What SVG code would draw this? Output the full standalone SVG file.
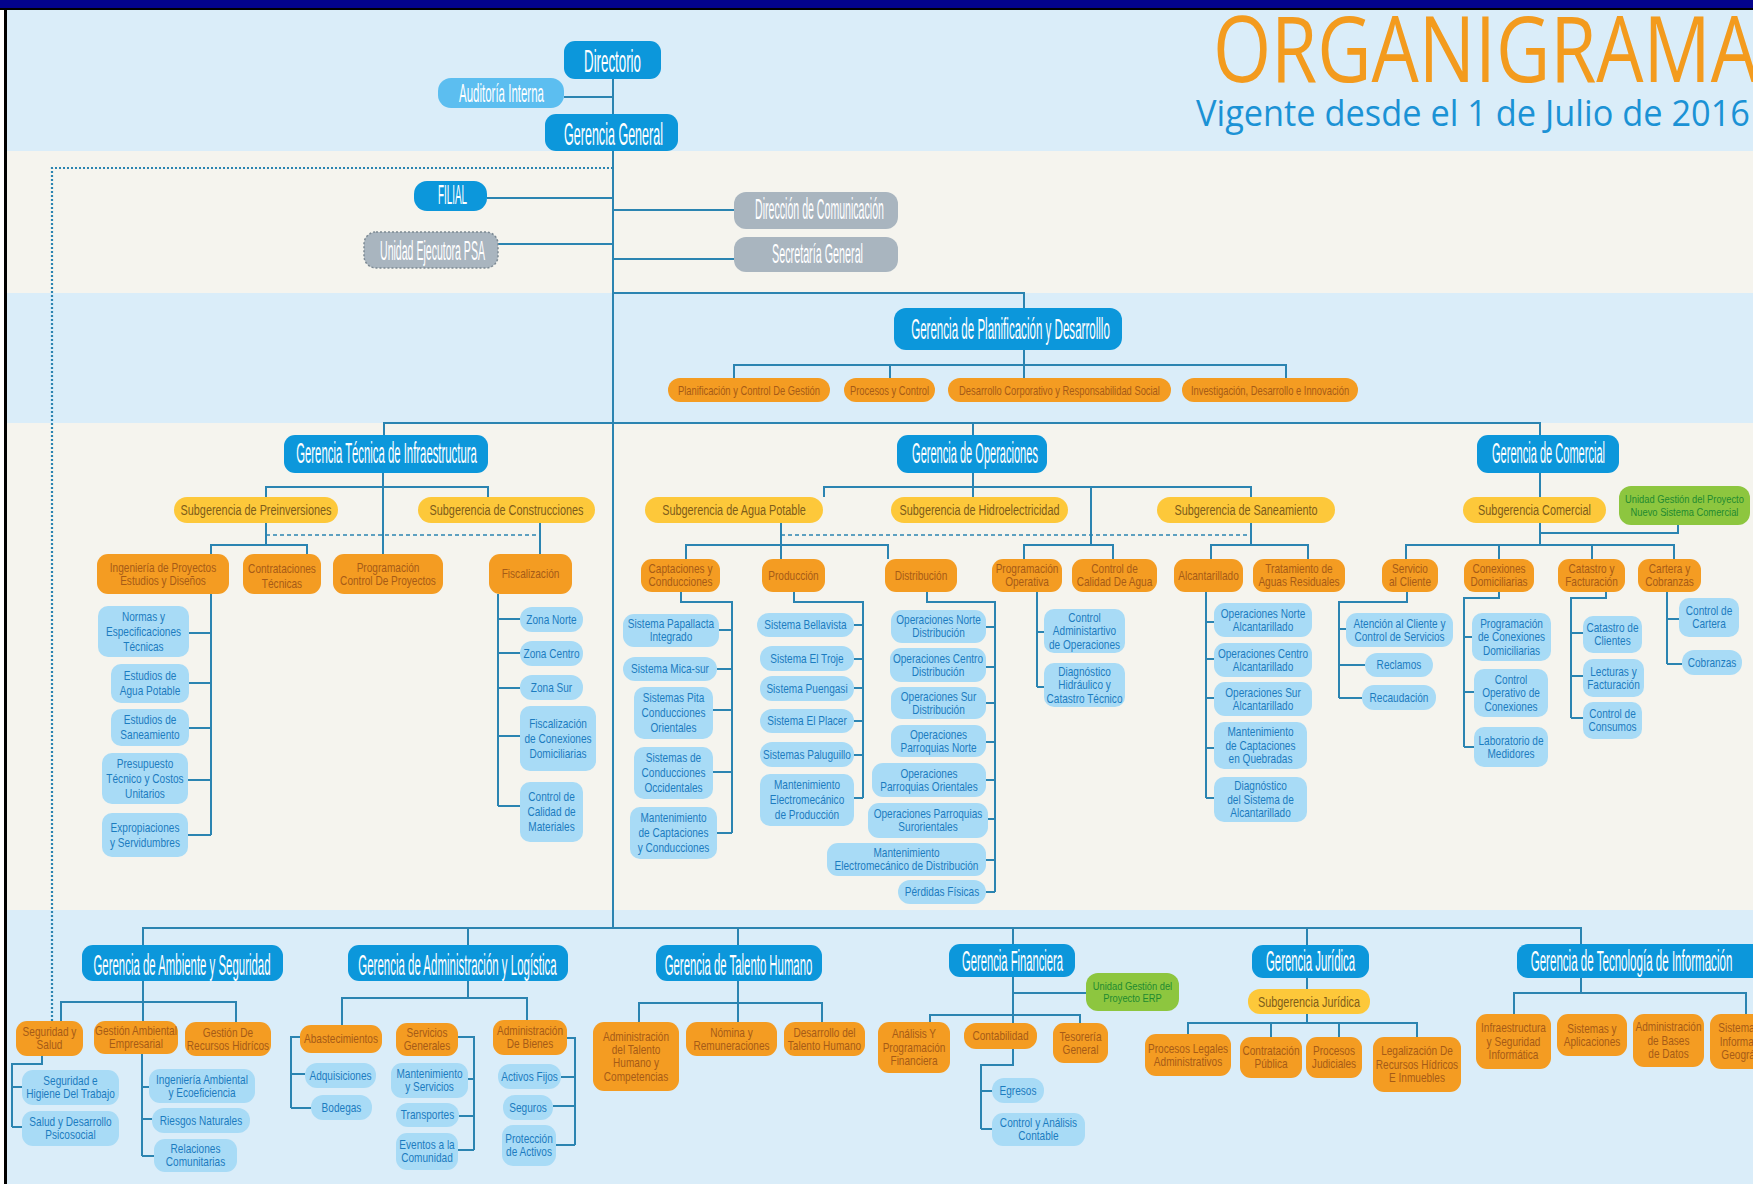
<svg xmlns="http://www.w3.org/2000/svg" width="1753" height="1184" viewBox="0 0 1753 1184">
<defs>
<style>
.ln{fill:none;stroke:#2b84b1;stroke-width:2}
.dsh{fill:none;stroke:#2b84b1;stroke-width:1.3;stroke-dasharray:4 3}
.dot{fill:none;stroke:#2b84b1;stroke-width:2.2;stroke-dasharray:2 2}
.gm{fill:#0c97db}
.au{fill:#5cbef0}
.gy{fill:#a9b5bf}
.or{fill:#f49c22}
.ye{fill:#fdc83a}
.lb{fill:#a8dbf6}
.gn{fill:#8dc63f}
text{font-family:"Liberation Sans",Arial,sans-serif}
.t{fill:#ffffff;text-anchor:middle}
.ot{fill:#a65b17;font-size:12px;text-anchor:middle}
.bt{fill:#1c7cc0;font-size:12px;text-anchor:middle}
.yt{fill:#7d5d1a;font-size:14.5px;text-anchor:middle}
.gt{fill:#1f8a30;font-size:11px;text-anchor:middle}
.pt{fill:#a65b17;font-size:12.5px;text-anchor:middle}
</style>
</defs>

<g id="background">
<rect x="0" y="0" width="1753" height="1184" fill="#ffffff"/>
<rect x="7" y="10" width="1746" height="141" fill="#daedf9"/>
<rect x="7" y="151" width="1746" height="142" fill="#f5f4ee"/>
<rect x="7" y="293" width="1746" height="130" fill="#daedf9"/>
<rect x="7" y="423" width="1746" height="487" fill="#f5f4ee"/>
<rect x="7" y="910" width="1746" height="274" fill="#daedf9"/>
<rect x="0" y="0" width="1753" height="9" fill="#03038c"/>
<rect x="0" y="8" width="1753" height="2" fill="#000000"/>
<rect x="4" y="8" width="3" height="1176" fill="#000000"/>
</g>

<g id="title">
<text x="1213" y="82" style="font-family:'Open Sans','Liberation Sans',sans-serif;font-size:92px;fill:#f39b1e" textLength="545" lengthAdjust="spacingAndGlyphs">ORGANIGRAMA</text>
<text x="1196" y="126" style="font-family:'Open Sans','Liberation Sans',sans-serif;font-size:37px;fill:#1b92d5" textLength="554" lengthAdjust="spacingAndGlyphs">Vigente desde el 1 de Julio de 2016</text>
</g>

<g id="connectors">
<path class="ln" d="M613,79 V928"/>
<path class="ln" d="M564,97 H613"/>
<path class="ln" d="M487,198 H613"/>
<path class="ln" d="M613,210 H734"/>
<path class="ln" d="M498,244 H613"/>
<path class="ln" d="M613,259 H734"/>
<path class="ln" d="M613,293 H1024 V308"/>
<path class="ln" d="M1024,350 V378"/>
<path class="ln" d="M734,378 V365 H1286 V378"/>
<path class="ln" d="M890,365 V378"/>
<path class="dot" d="M613,168 H52 V1021"/>
<path class="ln" d="M384,435 V423 H1540 V435"/>
<path class="ln" d="M973,423 V435"/>
<path class="ln" d="M383,473 V554"/>
<path class="ln" d="M266,497 V487 H488 V497"/>
<path class="ln" d="M266,523 V545"/>
<path class="ln" d="M211,554 V545 H307 V554"/>
<path class="dsh" d="M266,535 H540"/>
<path class="ln" d="M540,523 V554"/>
<path class="ln" d="M211,594 V835 M189,633 H211 M189,683 H211 M189,728 H211 M188,780 H211 M188,835 H211"/>
<path class="ln" d="M498,594 V806 M498,619 H520 M498,653 H520 M498,688 H520 M498,736 H520 M498,806 H520"/>
<path class="ln" d="M973,473 V497"/>
<path class="ln" d="M824,497 V487 H1251 V497"/>
<path class="ln" d="M1091,487 V545"/>
<path class="ln" d="M1024,559 V545 H1113 V559"/>
<path class="dsh" d="M781,535 H1251"/>
<path class="ln" d="M781,523 V559"/>
<path class="ln" d="M686,559 V545 H888 V559"/>
<path class="ln" d="M1251,523 V545"/>
<path class="ln" d="M1211,559 V545 H1308 V559"/>
<path class="ln" d="M681,592 V602 H732 V833 M719,630 H732 M717,669 H732 M713,710 H732 M713,772 H732 M717,833 H732"/>
<path class="ln" d="M794,592 V602 H863 V798 M854,625 H863 M854,659 H863 M854,688 H863 M854,721 H863 M854,755 H863 M854,798 H863"/>
<path class="ln" d="M927,592 V602 H995 V892 M986,627 H995 M986,667 H995 M986,703 H995 M986,742 H995 M986,780 H995 M988,819 H995 M986,860 H995 M986,892 H995"/>
<path class="ln" d="M1037,592 V687 M1037,632 H1044 M1037,687 H1044"/>
<path class="ln" d="M1206,592 V798 M1206,622 H1214 M1206,659 H1214 M1206,698 H1214 M1206,748 H1214 M1206,798 H1214"/>
<path class="ln" d="M1540,473 V545"/>
<path class="ln" d="M1678,525 V533 H1540"/>
<path class="ln" d="M1406,559 V545 H1674 V559 M1499,545 V559 M1592,545 V559"/>
<path class="ln" d="M1407,592 V602 H1339 V698 M1339,629 H1346 M1339,665 H1365 M1339,698 H1362"/>
<path class="ln" d="M1499,592 V598 H1464 V747 M1464,637 H1472 M1464,692 H1474 M1464,747 H1474"/>
<path class="ln" d="M1606,592 V598 H1571 V718 M1571,633 H1583 M1571,676 H1583 M1571,718 H1583"/>
<path class="ln" d="M1667,592 V664 M1667,619 H1679 M1667,664 H1682"/>
<path class="ln" d="M143,945 V928 H1581 V944"/>
<path class="ln" d="M468,928 V945 M738,928 V945 M1013,928 V944 M1307,928 V945"/>
<path class="ln" d="M143,981 V1021"/>
<path class="ln" d="M61,1021 V1002 H236 V1022"/>
<path class="ln" d="M42,1056 V1064 H12 V1127 M12,1087 H22 M12,1127 H22"/>
<path class="ln" d="M142,1054 V1156 M142,1087 H149 M142,1119 H152 M142,1156 H154"/>
<path class="ln" d="M468,981 V998"/>
<path class="ln" d="M342,1025 V998 H527 V1020"/>
<path class="ln" d="M300,1037 H291 V1108 M291,1074 H305 M291,1108 H311"/>
<path class="ln" d="M458,1037 H474 V1150 M468,1079 H474 M459,1116 H474 M458,1150 H474"/>
<path class="ln" d="M567,1038 H575 V1145 M561,1077 H575 M553,1106 H575 M556,1145 H575"/>
<path class="ln" d="M738,981 V1022"/>
<path class="ln" d="M639,1022 V1003 H822 V1022"/>
<path class="ln" d="M1013,977 V1023 M1013,993 H1086"/>
<path class="ln" d="M930,1022 V1015 H1080 V1023"/>
<path class="ln" d="M1013,1049 V1065 H981 V1129 M981,1091 H992 M981,1129 H992"/>
<path class="ln" d="M1307,978 V989 M1307,1014 V1023"/>
<path class="ln" d="M1188,1034 V1023 H1417 V1037 M1271,1023 V1037 M1339,1023 V1037"/>
<path class="ln" d="M1581,978 V993"/>
<path class="ln" d="M1514,1014 V993 H1746 V1014"/>
</g>

<g id="directorio"><rect class="gm" x="564" y="41" width="97" height="38" rx="11"/><text class="t" font-size="32" transform="translate(612.5,72) scale(.416,1)">Directorio</text></g>
<g id="auditoria-interna"><rect class="au" x="438" y="78" width="126" height="30" rx="13"/><text class="t" font-size="26" transform="translate(501.5,102) scale(.442,1)">Auditoría Interna</text></g>
<g id="gerencia-general"><rect class="gm" x="545" y="114" width="133" height="37" rx="11"/><text class="t" font-size="31" transform="translate(613.5,145) scale(.405,1)">Gerencia General</text></g>
<g id="filial"><rect class="gm" x="414" y="181" width="73" height="30" rx="13"/><text class="t" font-size="27" transform="translate(452.5,204) scale(.365,1)">FILIAL</text></g>
<g id="direccion-comunicacion"><rect class="gy" x="734" y="192" width="164" height="37" rx="12"/><text class="t" font-size="30" transform="translate(819.5,219) scale(.353,1)">Dirección de Comunicación</text></g>
<g id="secretaria-general"><rect class="gy" x="734" y="237" width="164" height="35" rx="12"/><text class="t" font-size="28" transform="translate(817.5,263) scale(.385,1)">Secretaría General</text></g>
<g id="unidad-ejecutora-psa"><rect class="gy" x="364" y="232" width="134" height="36" rx="12" stroke="#7c8993" stroke-width="1.5" stroke-dasharray="2 2"/><text class="t" font-size="28" transform="translate(432.5,260) scale(.377,1)">Unidad Ejecutora PSA</text></g>

<g id="gerencia-planificacion"><rect class="gm" x="894" y="308" width="228" height="42" rx="12"/><text class="t" font-size="30" transform="translate(1010.5,339) scale(.386,1)">Gerencia de Planificación y Desarrolllo</text></g>
<g id="planificacion-control"><rect class="or" x="668" y="378" width="162" height="24" rx="12"/><text class="pt" transform="translate(749,394.5) scale(.75,1)">Planificación y Control De Gestión</text></g>
<g id="procesos-control"><rect class="or" x="844" y="378" width="91" height="24" rx="12"/><text class="pt" transform="translate(889.5,394.5) scale(.75,1)">Procesos y Control</text></g>
<g id="desarrollo-corporativo"><rect class="or" x="948" y="378" width="223" height="24" rx="12"/><text class="pt" transform="translate(1059.5,394.5) scale(.75,1)">Desarrollo Corporativo y Responsabilidad Social</text></g>
<g id="investigacion"><rect class="or" x="1182" y="378" width="176" height="24" rx="12"/><text class="pt" transform="translate(1270,394.5) scale(.75,1)">Investigación, Desarrollo e Innovación</text></g>

<g id="gerencia-tecnica"><rect class="gm" x="284" y="435" width="204" height="38" rx="11"/><text class="t" font-size="29" transform="translate(386.5,463) scale(.391,1)">Gerencia Técnica de Infraestructura</text></g>
<g id="gerencia-operaciones"><rect class="gm" x="897" y="435" width="150" height="38" rx="11"/><text class="t" font-size="29" transform="translate(975,463) scale(.381,1)">Gerencia de Operaciones</text></g>
<g id="gerencia-comercial"><rect class="gm" x="1477" y="435" width="142" height="38" rx="11"/><text class="t" font-size="29" transform="translate(1548.5,463) scale(.381,1)">Gerencia de Comercial</text></g>

<g id="sub-preinversiones"><rect class="ye" x="174" y="497" width="164" height="26" rx="13"/><text class="yt" transform="translate(256,515) scale(.75,1)">Subgerencia de Preinversiones</text></g>
<g id="sub-construcciones"><rect class="ye" x="418" y="497" width="177" height="26" rx="13"/><text class="yt" transform="translate(506.5,515) scale(.75,1)">Subgerencia de Construcciones</text></g>
<g id="sub-agua-potable"><rect class="ye" x="645" y="497" width="178" height="26" rx="13"/><text class="yt" transform="translate(734,515) scale(.75,1)">Subgerencia de Agua Potable</text></g>
<g id="sub-hidroelectricidad"><rect class="ye" x="891" y="497" width="177" height="26" rx="13"/><text class="yt" transform="translate(979.5,515) scale(.75,1)">Subgerencia de Hidroelectricidad</text></g>
<g id="sub-saneamiento"><rect class="ye" x="1157" y="497" width="178" height="26" rx="13"/><text class="yt" transform="translate(1246,515) scale(.75,1)">Subgerencia de Saneamiento</text></g>
<g id="sub-comercial"><rect class="ye" x="1463" y="497" width="143" height="26" rx="13"/><text class="yt" transform="translate(1534.5,515) scale(.75,1)">Subgerencia Comercial</text></g>
<g id="unidad-nsc"><rect class="gn" x="1619" y="486" width="131" height="39" rx="12"/><text class="gt" transform="translate(1684.5,503.2) scale(.85,1)"><tspan x="0">Unidad Gestión del Proyecto</tspan><tspan x="0" dy="12.5">Nuevo Sistema Comercial</tspan></text></g>

<g id="ingenieria-proyectos"><rect class="or" x="97" y="554" width="132" height="40" rx="11"/><text class="ot" transform="translate(163,571.6) scale(.84,1)"><tspan x="0">Ingeniería de Proyectos</tspan><tspan x="0" dy="13.5">Estudios y Diseños</tspan></text></g>
<g id="contrataciones-tecnicas"><rect class="or" x="243" y="554" width="78" height="40" rx="11"/><text class="ot" transform="translate(282,572.5) scale(.84,1)"><tspan x="0">Contrataciones</tspan><tspan x="0" dy="16">Técnicas</tspan></text></g>
<g id="programacion-proyectos"><rect class="or" x="333" y="554" width="110" height="40" rx="11"/><text class="ot" transform="translate(388,571.6) scale(.84,1)"><tspan x="0">Programación</tspan><tspan x="0" dy="13.5">Control De Proyectos</tspan></text></g>
<g id="fiscalizacion"><rect class="or" x="489" y="554" width="83" height="40" rx="11"/><text class="ot" transform="translate(530.5,578.3) scale(.84,1)">Fiscalización</text></g>

<g id="normas"><rect class="lb" x="98" y="606" width="91" height="51" rx="10"/><text class="bt" transform="translate(143.5,620.8) scale(.84,1)"><tspan x="0">Normas y</tspan><tspan x="0" dy="15">Especificaciones</tspan><tspan x="0" dy="15">Técnicas</tspan></text></g>
<g id="estudios-agua"><rect class="lb" x="111" y="664" width="78" height="39" rx="10"/><text class="bt" transform="translate(150,680.3) scale(.84,1)"><tspan x="0">Estudios de</tspan><tspan x="0" dy="15">Agua Potable</tspan></text></g>
<g id="estudios-saneamiento"><rect class="lb" x="111" y="709" width="78" height="37" rx="10"/><text class="bt" transform="translate(150,724.3) scale(.84,1)"><tspan x="0">Estudios de</tspan><tspan x="0" dy="15">Saneamiento</tspan></text></g>
<g id="presupuesto"><rect class="lb" x="102" y="753" width="86" height="51" rx="10"/><text class="bt" transform="translate(145,767.8) scale(.84,1)"><tspan x="0">Presupuesto</tspan><tspan x="0" dy="15">Técnico y Costos</tspan><tspan x="0" dy="15">Unitarios</tspan></text></g>
<g id="expropiaciones"><rect class="lb" x="102" y="813" width="86" height="44" rx="10"/><text class="bt" transform="translate(145,831.8) scale(.84,1)"><tspan x="0">Expropiaciones</tspan><tspan x="0" dy="15">y Servidumbres</tspan></text></g>

<g id="zona-norte"><rect class="lb" x="520" y="607" width="63" height="25" rx="12"/><text class="bt" transform="translate(551.5,623.8) scale(.84,1)">Zona Norte</text></g>
<g id="zona-centro"><rect class="lb" x="520" y="641" width="63" height="25" rx="12"/><text class="bt" transform="translate(551.5,657.8) scale(.84,1)">Zona Centro</text></g>
<g id="zona-sur"><rect class="lb" x="520" y="675" width="63" height="25" rx="12"/><text class="bt" transform="translate(551.5,691.8) scale(.84,1)">Zona Sur</text></g>
<g id="fiscalizacion-conexiones"><rect class="lb" x="520" y="706" width="76" height="65" rx="10"/><text class="bt" transform="translate(558,727.8) scale(.84,1)"><tspan x="0">Fiscalización</tspan><tspan x="0" dy="15">de Conexiones</tspan><tspan x="0" dy="15">Domiciliarias</tspan></text></g>
<g id="control-calidad-materiales"><rect class="lb" x="520" y="782" width="63" height="60" rx="10"/><text class="bt" transform="translate(551.5,801.3) scale(.84,1)"><tspan x="0">Control de</tspan><tspan x="0" dy="15">Calidad de</tspan><tspan x="0" dy="15">Materiales</tspan></text></g>

<g id="captaciones"><rect class="or" x="641" y="559" width="79" height="33" rx="11"/><text class="ot" transform="translate(680.5,573) scale(.84,1)"><tspan x="0">Captaciones y</tspan><tspan x="0" dy="13.5">Conducciones</tspan></text></g>
<g id="produccion"><rect class="or" x="762" y="559" width="63" height="33" rx="11"/><text class="ot" transform="translate(793.5,579.8) scale(.84,1)">Producción</text></g>
<g id="distribucion"><rect class="or" x="885" y="559" width="72" height="33" rx="11"/><text class="ot" transform="translate(921,579.8) scale(.84,1)">Distribución</text></g>
<g id="programacion-operativa"><rect class="or" x="992" y="559" width="70" height="33" rx="11"/><text class="ot" transform="translate(1027,573) scale(.84,1)"><tspan x="0">Programación</tspan><tspan x="0" dy="13.5">Operativa</tspan></text></g>
<g id="control-calidad-agua"><rect class="or" x="1072" y="559" width="85" height="33" rx="11"/><text class="ot" transform="translate(1114.5,573) scale(.84,1)"><tspan x="0">Control de</tspan><tspan x="0" dy="13.5">Calidad De Agua</tspan></text></g>
<g id="alcantarillado"><rect class="or" x="1174" y="559" width="69" height="33" rx="11"/><text class="ot" transform="translate(1208.5,579.8) scale(.84,1)">Alcantarillado</text></g>
<g id="tratamiento"><rect class="or" x="1253" y="559" width="92" height="33" rx="11"/><text class="ot" transform="translate(1299,573) scale(.84,1)"><tspan x="0">Tratamiento de</tspan><tspan x="0" dy="13.5">Aguas Residuales</tspan></text></g>
<g id="servicio-cliente"><rect class="or" x="1382" y="559" width="56" height="33" rx="11"/><text class="ot" transform="translate(1410,573) scale(.84,1)"><tspan x="0">Servicio</tspan><tspan x="0" dy="13.5">al Cliente</tspan></text></g>
<g id="conexiones-domiciliarias"><rect class="or" x="1464" y="559" width="70" height="33" rx="11"/><text class="ot" transform="translate(1499,573) scale(.84,1)"><tspan x="0">Conexiones</tspan><tspan x="0" dy="13.5">Domiciliarias</tspan></text></g>
<g id="catastro-facturacion"><rect class="or" x="1558" y="559" width="67" height="33" rx="11"/><text class="ot" transform="translate(1591.5,573) scale(.84,1)"><tspan x="0">Catastro y</tspan><tspan x="0" dy="13.5">Facturación</tspan></text></g>
<g id="cartera-cobranzas"><rect class="or" x="1638" y="559" width="63" height="33" rx="11"/><text class="ot" transform="translate(1669.5,573) scale(.84,1)"><tspan x="0">Cartera y</tspan><tspan x="0" dy="13.5">Cobranzas</tspan></text></g>

<g id="papallacta"><rect class="lb" x="623" y="614" width="96" height="33" rx="11"/><text class="bt" transform="translate(671,628) scale(.84,1)"><tspan x="0">Sistema Papallacta</tspan><tspan x="0" dy="13.5">Integrado</tspan></text></g>
<g id="mica-sur"><rect class="lb" x="623" y="657" width="94" height="24" rx="12"/><text class="bt" transform="translate(670,673.3) scale(.84,1)">Sistema Mica-sur</text></g>
<g id="pita"><rect class="lb" x="634" y="687" width="79" height="52" rx="10"/><text class="bt" transform="translate(673.5,702.3) scale(.84,1)"><tspan x="0">Sistemas Pita</tspan><tspan x="0" dy="15">Conducciones</tspan><tspan x="0" dy="15">Orientales</tspan></text></g>
<g id="occidentales"><rect class="lb" x="634" y="747" width="79" height="52" rx="10"/><text class="bt" transform="translate(673.5,762.3) scale(.84,1)"><tspan x="0">Sistemas de</tspan><tspan x="0" dy="15">Conducciones</tspan><tspan x="0" dy="15">Occidentales</tspan></text></g>
<g id="mant-captaciones"><rect class="lb" x="630" y="807" width="87" height="52" rx="10"/><text class="bt" transform="translate(673.5,822.3) scale(.84,1)"><tspan x="0">Mantenimiento</tspan><tspan x="0" dy="15">de Captaciones</tspan><tspan x="0" dy="15">y Conducciones</tspan></text></g>

<g id="bellavista"><rect class="lb" x="757" y="613" width="97" height="24" rx="12"/><text class="bt" transform="translate(805.5,629.3) scale(.84,1)">Sistema Bellavista</text></g>
<g id="el-troje"><rect class="lb" x="760" y="646" width="94" height="25" rx="12"/><text class="bt" transform="translate(807,662.8) scale(.84,1)">Sistema El Troje</text></g>
<g id="puengasi"><rect class="lb" x="760" y="676" width="94" height="25" rx="12"/><text class="bt" transform="translate(807,692.8) scale(.84,1)">Sistema Puengasi</text></g>
<g id="el-placer"><rect class="lb" x="760" y="709" width="94" height="24" rx="12"/><text class="bt" transform="translate(807,725.3) scale(.84,1)">Sistema El Placer</text></g>
<g id="paluguillo"><rect class="lb" x="760" y="742" width="94" height="25" rx="12"/><text class="bt" transform="translate(807,758.8) scale(.84,1)">Sistemas Paluguillo</text></g>
<g id="mant-produccion"><rect class="lb" x="760" y="774" width="94" height="52" rx="10"/><text class="bt" transform="translate(807,789.3) scale(.84,1)"><tspan x="0">Mantenimiento</tspan><tspan x="0" dy="15">Electromecánico</tspan><tspan x="0" dy="15">de Producción</tspan></text></g>

<g id="op-norte-dist"><rect class="lb" x="891" y="610" width="95" height="33" rx="11"/><text class="bt" transform="translate(938.5,624) scale(.84,1)"><tspan x="0">Operaciones Norte</tspan><tspan x="0" dy="13.5">Distribución</tspan></text></g>
<g id="op-centro-dist"><rect class="lb" x="890" y="648" width="96" height="34" rx="11"/><text class="bt" transform="translate(938,662.5) scale(.84,1)"><tspan x="0">Operaciones Centro</tspan><tspan x="0" dy="13.5">Distribución</tspan></text></g>
<g id="op-sur-dist"><rect class="lb" x="891" y="687" width="95" height="32" rx="11"/><text class="bt" transform="translate(938.5,700.5) scale(.84,1)"><tspan x="0">Operaciones Sur</tspan><tspan x="0" dy="13.5">Distribución</tspan></text></g>
<g id="op-parroquias-norte"><rect class="lb" x="891" y="725" width="95" height="32" rx="11"/><text class="bt" transform="translate(938.5,738.5) scale(.84,1)"><tspan x="0">Operaciones</tspan><tspan x="0" dy="13.5">Parroquias Norte</tspan></text></g>
<g id="op-parroquias-orientales"><rect class="lb" x="872" y="763" width="114" height="34" rx="11"/><text class="bt" transform="translate(929,777.5) scale(.84,1)"><tspan x="0">Operaciones</tspan><tspan x="0" dy="13.5">Parroquias Orientales</tspan></text></g>
<g id="op-parroquias-surorientales"><rect class="lb" x="868" y="803" width="120" height="35" rx="11"/><text class="bt" transform="translate(928,818) scale(.84,1)"><tspan x="0">Operaciones Parroquias</tspan><tspan x="0" dy="13.5">Surorientales</tspan></text></g>
<g id="mant-distribucion"><rect class="lb" x="827" y="843" width="159" height="33" rx="11"/><text class="bt" transform="translate(906.5,857) scale(.84,1)"><tspan x="0">Mantenimiento</tspan><tspan x="0" dy="13.5">Electromecánico de Distribución</tspan></text></g>
<g id="perdidas-fisicas"><rect class="lb" x="898" y="880" width="88" height="24" rx="12"/><text class="bt" transform="translate(942,896.3) scale(.84,1)">Pérdidas Físicas</text></g>

<g id="control-administrativo"><rect class="lb" x="1044" y="609" width="81" height="44" rx="10"/><text class="bt" transform="translate(1084.5,621.8) scale(.84,1)"><tspan x="0">Control</tspan><tspan x="0" dy="13.5">Administartivo</tspan><tspan x="0" dy="13.5">de Operaciones</tspan></text></g>
<g id="diagnostico-hidraulico"><rect class="lb" x="1044" y="663" width="81" height="44" rx="10"/><text class="bt" transform="translate(1084.5,675.8) scale(.84,1)"><tspan x="0">Diagnóstico</tspan><tspan x="0" dy="13.5">Hidráulico y</tspan><tspan x="0" dy="13.5">Catastro Técnico</tspan></text></g>

<g id="op-norte-alc"><rect class="lb" x="1214" y="603" width="98" height="34" rx="11"/><text class="bt" transform="translate(1263,617.5) scale(.84,1)"><tspan x="0">Operaciones Norte</tspan><tspan x="0" dy="13.5">Alcantarillado</tspan></text></g>
<g id="op-centro-alc"><rect class="lb" x="1214" y="643" width="98" height="34" rx="11"/><text class="bt" transform="translate(1263,657.5) scale(.84,1)"><tspan x="0">Operaciones Centro</tspan><tspan x="0" dy="13.5">Alcantarillado</tspan></text></g>
<g id="op-sur-alc"><rect class="lb" x="1214" y="682" width="98" height="34" rx="11"/><text class="bt" transform="translate(1263,696.5) scale(.84,1)"><tspan x="0">Operaciones Sur</tspan><tspan x="0" dy="13.5">Alcantarillado</tspan></text></g>
<g id="mant-quebradas"><rect class="lb" x="1214" y="722" width="93" height="47" rx="10"/><text class="bt" transform="translate(1260.5,736.3) scale(.84,1)"><tspan x="0">Mantenimiento</tspan><tspan x="0" dy="13.5">de Captaciones</tspan><tspan x="0" dy="13.5">en Quebradas</tspan></text></g>
<g id="diagnostico-alcantarillado"><rect class="lb" x="1214" y="777" width="93" height="45" rx="10"/><text class="bt" transform="translate(1260.5,790.3) scale(.84,1)"><tspan x="0">Diagnóstico</tspan><tspan x="0" dy="13.5">del Sistema de</tspan><tspan x="0" dy="13.5">Alcantarillado</tspan></text></g>

<g id="atencion-cliente"><rect class="lb" x="1346" y="613" width="107" height="34" rx="11"/><text class="bt" transform="translate(1399.5,627.5) scale(.84,1)"><tspan x="0">Atención al Cliente y</tspan><tspan x="0" dy="13.5">Control de Servicios</tspan></text></g>
<g id="reclamos"><rect class="lb" x="1365" y="653" width="68" height="24" rx="12"/><text class="bt" transform="translate(1399,669.3) scale(.84,1)">Reclamos</text></g>
<g id="recaudacion"><rect class="lb" x="1362" y="685" width="74" height="25" rx="12"/><text class="bt" transform="translate(1399,701.8) scale(.84,1)">Recaudación</text></g>
<g id="programacion-conexiones"><rect class="lb" x="1472" y="613" width="79" height="48" rx="10"/><text class="bt" transform="translate(1511.5,627.8) scale(.84,1)"><tspan x="0">Programación</tspan><tspan x="0" dy="13.5">de Conexiones</tspan><tspan x="0" dy="13.5">Domiciliarias</tspan></text></g>
<g id="control-operativo"><rect class="lb" x="1474" y="669" width="74" height="48" rx="10"/><text class="bt" transform="translate(1511,683.8) scale(.84,1)"><tspan x="0">Control</tspan><tspan x="0" dy="13.5">Operativo de</tspan><tspan x="0" dy="13.5">Conexiones</tspan></text></g>
<g id="laboratorio-medidores"><rect class="lb" x="1474" y="727" width="74" height="40" rx="10"/><text class="bt" transform="translate(1511,744.5) scale(.84,1)"><tspan x="0">Laboratorio de</tspan><tspan x="0" dy="13.5">Medidores</tspan></text></g>
<g id="catastro-clientes"><rect class="lb" x="1583" y="616" width="59" height="37" rx="10"/><text class="bt" transform="translate(1612.5,632) scale(.84,1)"><tspan x="0">Catastro de</tspan><tspan x="0" dy="13.5">Clientes</tspan></text></g>
<g id="lecturas-facturacion"><rect class="lb" x="1583" y="659" width="61" height="38" rx="10"/><text class="bt" transform="translate(1613.5,675.5) scale(.84,1)"><tspan x="0">Lecturas y</tspan><tspan x="0" dy="13.5">Facturación</tspan></text></g>
<g id="control-consumos"><rect class="lb" x="1583" y="702" width="59" height="37" rx="10"/><text class="bt" transform="translate(1612.5,718) scale(.84,1)"><tspan x="0">Control de</tspan><tspan x="0" dy="13.5">Consumos</tspan></text></g>
<g id="control-cartera"><rect class="lb" x="1679" y="598" width="60" height="39" rx="10"/><text class="bt" transform="translate(1709,615) scale(.84,1)"><tspan x="0">Control de</tspan><tspan x="0" dy="13.5">Cartera</tspan></text></g>
<g id="cobranzas"><rect class="lb" x="1682" y="650" width="60" height="25" rx="12"/><text class="bt" transform="translate(1712,666.8) scale(.84,1)">Cobranzas</text></g>

<g id="gerencia-ambiente"><rect class="gm" x="82" y="945" width="201" height="36" rx="11"/><text class="t" font-size="29" transform="translate(182,975) scale(.394,1)">Gerencia de Ambiente y Seguridad</text></g>
<g id="gerencia-administracion"><rect class="gm" x="348" y="945" width="220" height="36" rx="11"/><text class="t" font-size="29" transform="translate(457.5,975) scale(.396,1)">Gerencia de Administración y Logística</text></g>
<g id="gerencia-talento"><rect class="gm" x="656" y="945" width="166" height="36" rx="11"/><text class="t" font-size="29" transform="translate(738.5,975) scale(.392,1)">Gerencia de Talento Humano</text></g>
<g id="gerencia-financiera"><rect class="gm" x="949" y="944" width="126" height="33" rx="11"/><text class="t" font-size="29" transform="translate(1012.5,971) scale(.387,1)">Gerencia Financiera</text></g>
<g id="gerencia-juridica"><rect class="gm" x="1252" y="945" width="117" height="33" rx="11"/><text class="t" font-size="29" transform="translate(1310.5,971) scale(.392,1)">Gerencia Jurídica</text></g>
<g id="gerencia-tecnologia"><rect class="gm" x="1517" y="944" width="250" height="34" rx="11"/><text class="t" font-size="29" transform="translate(1631.5,971) scale(.399,1)">Gerencia de Tecnología de Información</text></g>
<g id="unidad-erp"><rect class="gn" x="1086" y="973" width="93" height="38" rx="12"/><text class="gt" transform="translate(1132.5,989.7) scale(.85,1)"><tspan x="0">Unidad Gestión del</tspan><tspan x="0" dy="12.5">Proyecto ERP</tspan></text></g>
<g id="sub-juridica"><rect class="ye" x="1248" y="989" width="122" height="25" rx="12"/><text class="yt" transform="translate(1309,1006.7) scale(.75,1)">Subgerencia Jurídica</text></g>

<g id="seguridad-salud"><rect class="or" x="16" y="1021" width="67" height="35" rx="11"/><text class="ot" transform="translate(49.5,1036) scale(.84,1)"><tspan x="0">Seguridad y</tspan><tspan x="0" dy="13.5">Salud</tspan></text></g>
<g id="gestion-ambiental"><rect class="or" x="94" y="1021" width="84" height="33" rx="11"/><text class="ot" transform="translate(136,1035) scale(.84,1)"><tspan x="0">Gestión Ambiental</tspan><tspan x="0" dy="13.5">Empresarial</tspan></text></g>
<g id="gestion-hidricos"><rect class="or" x="185" y="1022" width="86" height="34" rx="11"/><text class="ot" transform="translate(228,1036.5) scale(.84,1)"><tspan x="0">Gestión De</tspan><tspan x="0" dy="13.5">Recursos Hidrícos</tspan></text></g>
<g id="abastecimientos"><rect class="or" x="300" y="1025" width="82" height="28" rx="11"/><text class="ot" transform="translate(341,1043.3) scale(.84,1)">Abastecimientos</text></g>
<g id="servicios-generales"><rect class="or" x="396" y="1023" width="62" height="33" rx="11"/><text class="ot" transform="translate(427,1037) scale(.84,1)"><tspan x="0">Servicios</tspan><tspan x="0" dy="13.5">Generales</tspan></text></g>
<g id="administracion-bienes"><rect class="or" x="493" y="1020" width="74" height="35" rx="11"/><text class="ot" transform="translate(530,1035) scale(.84,1)"><tspan x="0">Administración</tspan><tspan x="0" dy="13.5">De Bienes</tspan></text></g>
<g id="administracion-talento"><rect class="or" x="593" y="1022" width="86" height="69" rx="11"/><text class="ot" transform="translate(636,1040.5) scale(.84,1)"><tspan x="0">Administración</tspan><tspan x="0" dy="13.5">del Talento</tspan><tspan x="0" dy="13.5">Humano y</tspan><tspan x="0" dy="13.5">Competencias</tspan></text></g>
<g id="nomina"><rect class="or" x="686" y="1022" width="91" height="34" rx="11"/><text class="ot" transform="translate(731.5,1036.5) scale(.84,1)"><tspan x="0">Nómina y</tspan><tspan x="0" dy="13.5">Remuneraciones</tspan></text></g>
<g id="desarrollo-talento"><rect class="or" x="784" y="1022" width="81" height="34" rx="11"/><text class="ot" transform="translate(824.5,1036.5) scale(.84,1)"><tspan x="0">Desarrollo del</tspan><tspan x="0" dy="13.5">Talento Humano</tspan></text></g>
<g id="analisis-programacion"><rect class="or" x="878" y="1022" width="72" height="51" rx="11"/><text class="ot" transform="translate(914,1038.3) scale(.84,1)"><tspan x="0">Análisis Y</tspan><tspan x="0" dy="13.5">Programación</tspan><tspan x="0" dy="13.5">Financiera</tspan></text></g>
<g id="contabilidad"><rect class="or" x="964" y="1023" width="73" height="26" rx="12"/><text class="ot" transform="translate(1000.5,1040.3) scale(.84,1)">Contabilidad</text></g>
<g id="tesoreria"><rect class="or" x="1053" y="1023" width="55" height="40" rx="11"/><text class="ot" transform="translate(1080.5,1040.5) scale(.84,1)"><tspan x="0">Tesorería</tspan><tspan x="0" dy="13.5">General</tspan></text></g>
<g id="procesos-legales"><rect class="or" x="1145" y="1034" width="86" height="42" rx="11"/><text class="ot" transform="translate(1188,1052.5) scale(.84,1)"><tspan x="0">Procesos Legales</tspan><tspan x="0" dy="13.5">Administrativos</tspan></text></g>
<g id="contratacion-publica"><rect class="or" x="1240" y="1037" width="62" height="41" rx="11"/><text class="ot" transform="translate(1271,1055) scale(.84,1)"><tspan x="0">Contratación</tspan><tspan x="0" dy="13.5">Pública</tspan></text></g>
<g id="procesos-judiciales"><rect class="or" x="1306" y="1037" width="56" height="41" rx="11"/><text class="ot" transform="translate(1334,1055) scale(.84,1)"><tspan x="0">Procesos</tspan><tspan x="0" dy="13.5">Judiciales</tspan></text></g>
<g id="legalizacion"><rect class="or" x="1373" y="1037" width="88" height="55" rx="11"/><text class="ot" transform="translate(1417,1055.3) scale(.84,1)"><tspan x="0">Legalización De</tspan><tspan x="0" dy="13.5">Recursos Hídricos</tspan><tspan x="0" dy="13.5">E Inmuebles</tspan></text></g>
<g id="infraestructura-seguridad"><rect class="or" x="1476" y="1014" width="75" height="55" rx="11"/><text class="ot" transform="translate(1513.5,1032.3) scale(.84,1)"><tspan x="0">Infraestructura</tspan><tspan x="0" dy="13.5">y Seguridad</tspan><tspan x="0" dy="13.5">Informática</tspan></text></g>
<g id="sistemas-aplicaciones"><rect class="or" x="1557" y="1014" width="70" height="42" rx="11"/><text class="ot" transform="translate(1592,1032.5) scale(.84,1)"><tspan x="0">Sistemas y</tspan><tspan x="0" dy="13.5">Aplicaciones</tspan></text></g>
<g id="administracion-bd"><rect class="or" x="1633" y="1014" width="71" height="53" rx="11"/><text class="ot" transform="translate(1668.5,1031.3) scale(.84,1)"><tspan x="0">Administración</tspan><tspan x="0" dy="13.5">de Bases</tspan><tspan x="0" dy="13.5">de Datos</tspan></text></g>
<g id="sistemas-geografica"><rect class="or" x="1710" y="1014" width="90" height="55" rx="11"/><text class="ot" transform="translate(1746,1032.3) scale(.84,1)"><tspan x="0">Sistemas de</tspan><tspan x="0" dy="13.5">Información</tspan><tspan x="0" dy="13.5">Geográfica</tspan></text></g>

<g id="seguridad-higiene"><rect class="lb" x="22" y="1070" width="97" height="35" rx="11"/><text class="bt" transform="translate(70.5,1085) scale(.84,1)"><tspan x="0">Seguridad e</tspan><tspan x="0" dy="13.5">Higiene Del Trabajo</tspan></text></g>
<g id="salud-desarrollo"><rect class="lb" x="22" y="1111" width="97" height="35" rx="11"/><text class="bt" transform="translate(70.5,1126) scale(.84,1)"><tspan x="0">Salud y Desarrollo</tspan><tspan x="0" dy="13.5">Psicosocial</tspan></text></g>
<g id="ingenieria-ambiental"><rect class="lb" x="149" y="1069" width="106" height="34" rx="11"/><text class="bt" transform="translate(202,1083.5) scale(.84,1)"><tspan x="0">Ingeniería Ambiental</tspan><tspan x="0" dy="13.5">y Ecoeficiencia</tspan></text></g>
<g id="riesgos-naturales"><rect class="lb" x="152" y="1108" width="98" height="25" rx="12"/><text class="bt" transform="translate(201,1124.8) scale(.84,1)">Riesgos Naturales</text></g>
<g id="relaciones-comunitarias"><rect class="lb" x="154" y="1139" width="83" height="33" rx="11"/><text class="bt" transform="translate(195.5,1153) scale(.84,1)"><tspan x="0">Relaciones</tspan><tspan x="0" dy="13.5">Comunitarias</tspan></text></g>
<g id="adquisiciones"><rect class="lb" x="305" y="1063" width="71" height="25" rx="12"/><text class="bt" transform="translate(340.5,1079.8) scale(.84,1)">Adquisiciones</text></g>
<g id="bodegas"><rect class="lb" x="311" y="1095" width="61" height="25" rx="12"/><text class="bt" transform="translate(341.5,1111.8) scale(.84,1)">Bodegas</text></g>
<g id="mantenimiento-servicios"><rect class="lb" x="391" y="1063" width="77" height="35" rx="11"/><text class="bt" transform="translate(429.5,1078) scale(.84,1)"><tspan x="0">Mantenimiento</tspan><tspan x="0" dy="13.5">y Servicios</tspan></text></g>
<g id="transportes"><rect class="lb" x="396" y="1103" width="63" height="24" rx="12"/><text class="bt" transform="translate(427.5,1119.3) scale(.84,1)">Transportes</text></g>
<g id="eventos-comunidad"><rect class="lb" x="396" y="1133" width="62" height="37" rx="11"/><text class="bt" transform="translate(427,1149) scale(.84,1)"><tspan x="0">Eventos a la</tspan><tspan x="0" dy="13.5">Comunidad</tspan></text></g>
<g id="activos-fijos"><rect class="lb" x="498" y="1064" width="63" height="25" rx="12"/><text class="bt" transform="translate(529.5,1080.8) scale(.84,1)">Activos Fijos</text></g>
<g id="seguros"><rect class="lb" x="503" y="1095" width="50" height="25" rx="12"/><text class="bt" transform="translate(528,1111.8) scale(.84,1)">Seguros</text></g>
<g id="proteccion-activos"><rect class="lb" x="502" y="1125" width="54" height="41" rx="11"/><text class="bt" transform="translate(529,1143) scale(.84,1)"><tspan x="0">Protección</tspan><tspan x="0" dy="13.5">de Activos</tspan></text></g>
<g id="egresos"><rect class="lb" x="992" y="1078" width="52" height="25" rx="12"/><text class="bt" transform="translate(1018,1094.8) scale(.84,1)">Egresos</text></g>
<g id="control-analisis-contable"><rect class="lb" x="992" y="1113" width="93" height="33" rx="11"/><text class="bt" transform="translate(1038.5,1127) scale(.84,1)"><tspan x="0">Control y Análisis</tspan><tspan x="0" dy="13.5">Contable</tspan></text></g>
</svg>
